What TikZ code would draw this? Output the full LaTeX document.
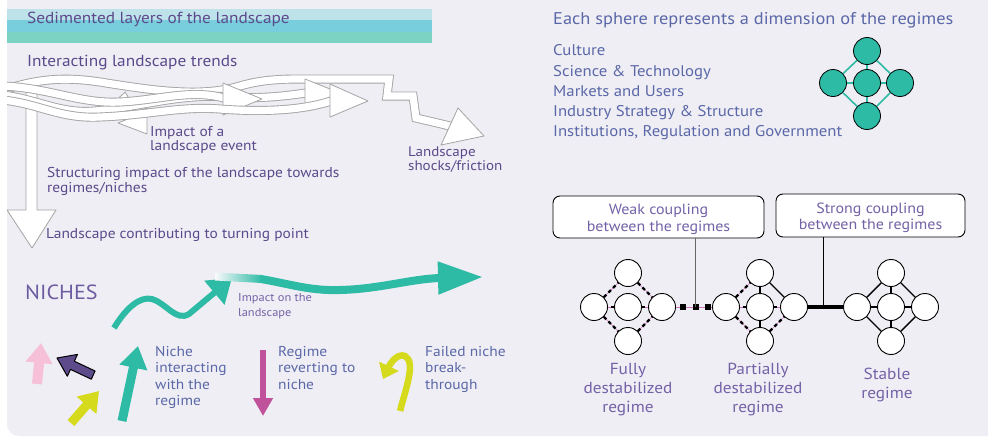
\documentclass[tikz,border=0pt]{standalone}
\usepackage{fontspec}
\setmainfont[FakeStretch=1.08]{PT Sans}
\usetikzlibrary{arrows.meta}
\definecolor{bg}{HTML}{F0EEF5}
\definecolor{bandA}{HTML}{BDE2EA}
\definecolor{bandB}{HTML}{78CEDC}
\definecolor{bandC}{HTML}{7CD2C3}
\definecolor{txtpurple}{HTML}{5B4A8B}
\definecolor{nichepurple}{HTML}{6C5BA0}
\definecolor{txtblue}{HTML}{5A68A8}
\definecolor{regpurple}{HTML}{7462A7}
\definecolor{tealc}{HTML}{2DBBA5}
\definecolor{pinkc}{HTML}{F6C1D8}
\definecolor{darkpur}{HTML}{5E4B8C}
\definecolor{yellowc}{HTML}{D5DA1D}
\definecolor{magentac}{HTML}{C0519B}
\definecolor{ribg}{HTML}{A4A4A4}
\definecolor{pinkline}{HTML}{D070C0}
\newcommand\fsz[2]{\fontsize{#1}{#2}\selectfont}
\begin{document}
\begin{tikzpicture}[x=1pt,y=-1pt,
  rib/.style={line width=9pt, draw=ribg, postaction={draw=white, line width=7.2pt}},
  ribhead/.style={fill=white, draw=ribg, line width=0.8pt, line join=round},
  lbl/.style={inner sep=0pt, anchor=north west, align=left},
  lg/.style={circle, draw=black, line width=0.8pt, fill=tealc, minimum size=27pt, inner sep=0pt},
  legline/.style={draw=tealc, line width=1.6pt},
  rg/.style={circle, draw=black, line width=0.9pt, fill=white, minimum size=27pt, inner sep=0pt},
  solidedge/.style={draw=black, line width=1.4pt},
  weakedge/.style={draw=pinkline, line width=0.6pt, postaction={draw=black, line width=2.4pt, dash pattern=on 3.5pt off 3pt}},
  coupbox/.style={draw=black, line width=0.9pt, fill=white, rounded corners=7pt, align=center, text=regpurple, font=\fsz{14.8}{16.5}, inner sep=0pt},
  reglbl/.style={inner sep=0pt, anchor=north, align=center, text=regpurple, font=\fsz{16}{19}}
]
\useasboundingbox (0,0) rectangle (988,439);
\fill[white] (0,0) rectangle (988,439);
\fill[bg, rounded corners=12pt] (7,-20) rectangle (1010,436);

% sedimented band
\fill[bandA] (7,9) rectangle (432,20);
\fill[bandB] (7,20) rectangle (432,32);
\fill[bandC] (7,32) rectangle (432,43);
\node[lbl, text=txtpurple, font=\fsz{16}{18}] (sed) at (27,12) {Sedimented layers of the landscape};
\node[lbl, text=txtpurple, font=\fsz{16}{18}] (trends) at (27,55) {Interacting landscape trends};

\begin{scope}
\clip (7,0) rectangle (988,439);
% vertical landscape arrow
\filldraw[ribhead] (26,92) -- (26,210) -- (7,210) -- (32,248) -- (56,210) -- (37,210) -- (37,92) -- cycle;
% impact of a landscape event arrow
\filldraw[ribhead] (125.4,92) -- (135.9,112.5) -- (147,108) -- (147,134) -- (118,123) -- (129.1,118.5) -- (118.6,98) -- cycle;

% ribbons
\draw[rib] (3,90) .. controls (35,80) and (60,76) .. (100,82) .. controls (150,90) and (200,98) .. (240,86) .. controls (260,80) and (280,79) .. (300,79) -- (389,79) -- (387,96) -- (413,96) -- (416,118) -- (450,126);
\filldraw[ribhead] (441,145) -- (458,108) -- (484,136) -- cycle;
\draw[rib] (3,95) .. controls (40,100) and (60,114) .. (95,111) .. controls (140,107) and (180,93) .. (230,97) .. controls (260,99) and (285,96) .. (306,93);
\filldraw[ribhead] (305,79) -- (340,93) -- (305,107) -- cycle;
\draw[rib] (3,86) .. controls (50,88) and (80,104) .. (120,102) .. controls (160,100) and (190,89) .. (224,98);
\filldraw[ribhead] (223,83) -- (262,99) -- (223,115) -- cycle;
\draw[rib] (3,100) .. controls (40,104) and (60,119) .. (100,117) .. controls (150,115) and (180,106) .. (220,109) .. controls (260,112) and (300,111) .. (331,101);
\filldraw[ribhead] (330,84) -- (368,101) -- (330,117) -- cycle;
\end{scope}

\node[lbl, text=txtpurple, font=\fsz{14.3}{12}] (impact) at (150,126) {Impact of a\\landscape event};
\node[lbl, text=txtpurple, font=\fsz{13.9}{11}] (shocks) at (408,147) {Landscape\\shocks/friction};
\node[lbl, text=txtpurple, font=\fsz{14.3}{11.5}] (struct) at (47,167.5) {Structuring impact of the landscape towards\\regimes/niches};
\node[lbl, text=txtpurple, font=\fsz{14.3}{16}] (turn) at (46,228.5) {Landscape contributing to turning point};

% niches
\node[lbl, text=nichepurple, font=\fsz{20.5}{22}] (niches) at (25,285) {NICHES};
\draw[tealc, line width=6pt, -{Triangle[width=30pt,length=23pt]}] (114,328) .. controls (126,308) and (140,296) .. (152,299) .. controls (166,303) and (176,322) .. (189,314) -- (232,278);
\shade[left color=bg!40!white, right color=tealc] (215,272.5) -- (262,275) -- (262,283) -- (215,280.5) -- cycle;
\draw[tealc, line width=8pt, -{Triangle[width=31pt,length=45pt]}] (261,279) .. controls (290,284) and (310,291) .. (340,290) .. controls (380,289) and (410,279) .. (440,278) -- (483,277);
\node[lbl, text=regpurple, font=\fsz{11.5}{15}] (impland) at (238,293) {Impact on the\\landscape};

% small arrows
\draw[pinkc, line width=10pt, -{Triangle[width=26pt,length=20pt]}] (37,384) -- (41,343);
\filldraw[fill=darkpur, draw=black, line width=1pt, line join=round] (57,358) -- (77.5,354.4) -- (74.3,361.2) -- (95.1,371.0) -- (91.3,379.2) -- (70.5,369.4) -- (67.3,376.2) -- cycle;
\draw[yellowc, line width=9pt, -{Triangle[width=25pt,length=19pt]}] (71,423) -- (99,391);
\draw[tealc, line width=9pt, -{Triangle[width=27pt,length=22pt]}] (122,421) -- (138,346);
\draw[magentac, line width=6pt, -{Triangle[width=19pt,length=18pt]}] (263,350) -- (263,416);
\draw[yellowc, line width=6.5pt, -{Triangle[width=21pt,length=14pt]}] (400,411) .. controls (406,388) and (416,362) .. (405,356) .. controls (398,353) and (391,362) .. (383,379);

\node[lbl, text=txtblue, font=\fsz{14.3}{16.5}] (nichelbl) at (155,346) {Niche\\interacting\\with the\\regime};
\node[lbl, text=txtblue, font=\fsz{14.3}{16.5}] (revlbl) at (278,346) {Regime\\reverting to\\niche};
\node[lbl, text=txtblue, font=\fsz{14.3}{16.5}] (faillbl) at (425,346) {Failed niche\\break-\\through};

% right: legend
\node[lbl, text=txtblue, font=\fsz{17}{19}] (each) at (553,12) {Each sphere represents a dimension of the regimes};
\node[lbl, text=txtblue, font=\fsz{15.5}{20.3}] (dims) at (553,44.5) {Culture\\Science \& Technology\\Markets and Users\\Industry Strategy \& Structure\\Institutions, Regulation and Government};

\node[lg] (c0) at (867,83) {};
\node[lg] (ct) at (867,51) {};
\node[lg] (cb) at (867,116) {};
\node[lg] (cl) at (833,83) {};
\node[lg] (cr) at (900,83) {};
\draw[legline] (c0) -- (ct);
\draw[legline] (c0) -- (cb);
\draw[legline] (c0) -- (cl);
\draw[legline] (c0) -- (cr);
\draw[legline] (ct) -- (cl);
\draw[legline] (ct) -- (cr);
\draw[legline] (cb) -- (cl);
\draw[legline] (cb) -- (cr);

% coupling boxes
\node[coupbox, minimum width=211pt, minimum height=42pt] (wbox) at (658.5,217) {\rule{0pt}{15pt}Weak coupling\\between the regimes};
\node[coupbox, minimum width=189pt, minimum height=43pt] (sbox) at (870.5,215.5) {\rule{0pt}{15pt}Strong coupling\\between the regimes};

% regimes
\node[rg] (f0) at (628,307) {};
\node[rg] (ft) at (628,273) {};
\node[rg] (fb) at (628,341) {};
\node[rg] (fl) at (594,307) {};
\node[rg] (fr) at (662,307) {};
\node[rg] (p0) at (760,307) {};
\node[rg] (pt) at (760,273) {};
\node[rg] (pb) at (760,341) {};
\node[rg] (pl) at (726,307) {};
\node[rg] (pr) at (794,307) {};
\node[rg] (s0) at (891,307) {};
\node[rg] (st) at (891,273) {};
\node[rg] (sb) at (891,341) {};
\node[rg] (sl) at (857,307) {};
\node[rg] (sr) at (925,307) {};

\draw[weakedge] (fl) -- (ft);
\draw[weakedge] (ft) -- (fr);
\draw[weakedge] (fl) -- (fb);
\draw[weakedge] (fb) -- (fr);
\draw[weakedge] (f0) -- (fr);
\draw[weakedge] (f0) -- (fl);

\draw[weakedge] (pl) -- (pt);
\draw[weakedge] (pl) -- (pb);
\draw[weakedge] (pb) -- (pr);
\draw[weakedge] (p0) -- (pl);
\draw[weakedge] (p0) -- (pr);
\draw[solidedge] (pt) -- (pr);
\draw[solidedge] (p0) -- (pt);
\draw[solidedge] (p0) -- (pb);

\draw[solidedge] (sl) -- (st);
\draw[solidedge] (st) -- (sr);
\draw[solidedge] (sl) -- (sb);
\draw[solidedge] (sb) -- (sr);
\draw[solidedge] (s0) -- (st);
\draw[solidedge] (s0) -- (sb);
\draw[solidedge] (s0) -- (sl);
\draw[solidedge] (s0) -- (sr);

% couplings
\draw[pinkline, line width=0.6pt] (fr) -- (pl);
\draw[black, line width=6pt, dash pattern=on 6pt off 6.5pt, dash phase=8pt] (fr) -- (pl);
\draw[black, line width=4.5pt] (pr) -- (sl);
\coordinate (wc) at (695,307);
\coordinate (sc) at (823,307);
\draw[black!60, line width=1pt] (wbox.south -| wc) -- (wc);
\draw[black, line width=1pt] (sbox.south -| sc) -- (sc);

\node[reglbl] (flbl) at (628,363) {Fully\\destabilized\\regime};
\node[reglbl] (plbl) at (758,363) {Partially\\destabilized\\regime};
\node[reglbl] (slbl) at (887,368) {Stable\\regime};
\end{tikzpicture}
\end{document}
